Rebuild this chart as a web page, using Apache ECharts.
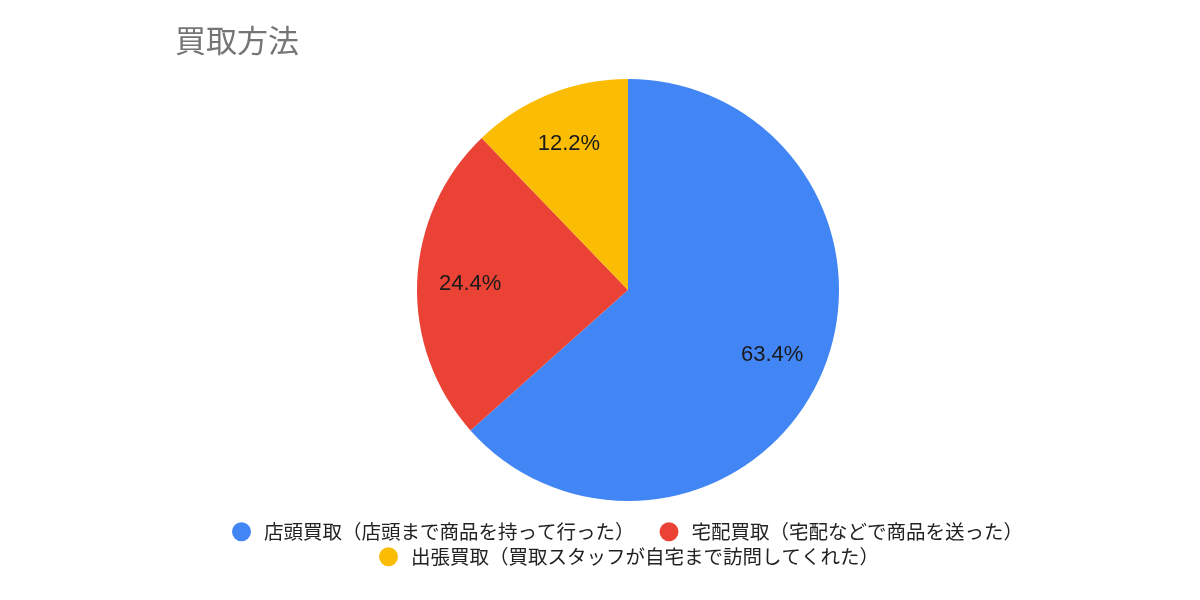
<!DOCTYPE html>
<html>
<head>
<meta charset="utf-8">
<script src="https://cdn.jsdelivr.net/npm/echarts@6/dist/echarts.min.js"></script>
<style>
html,body{margin:0;padding:0;background:#fff;}
#main{width:1200px;height:600px;}
</style>
</head>
<body>
<div id="main"></div>
<script>
const categories = [
  '店頭買取（店頭まで商品を持って行った）',
  '宅配買取（宅配などで商品を送った）',
  '出張買取（買取スタッフが自宅まで訪問してくれた）'
];
const values = [26, 10, 5];
const colors = ['#4285F4', '#EA4335', '#FBBC04'];
const titleText = '買取方法';

const cjk = '"Noto Sans CJK JP", "Noto Sans", sans-serif';
const pieData = categories.map((n, i) => ({ name: n, value: values[i], itemStyle: { color: colors[i] } }));
const labelData = categories.map((n, i) => ({ name: n, value: values[i] }));

const chart = echarts.init(document.getElementById('main'));
const legendCommon = {
  icon: 'circle',
  itemWidth: 19,
  itemHeight: 19,
  itemGap: 25,
  selectedMode: false,
  textStyle: { fontFamily: cjk, fontSize: 19.5, color: '#222', padding: [0, 0, 0, 8] }
};
chart.setOption({
  animation: false,
  title: {
    text: titleText,
    left: 170,
    top: 20,
    textStyle: { fontFamily: cjk, fontSize: 31, fontWeight: 'normal', color: '#757575' }
  },
  legend: [
    Object.assign({}, legendCommon, { left: 227, top: 517, data: categories.slice(0, 2) }),
    Object.assign({}, legendCommon, { left: 374, top: 542, data: categories.slice(2) })
  ],
  series: [
    {
      type: 'pie',
      center: [628, 290],
      radius: [0, 211],
      startAngle: 90,
      clockwise: true,
      silent: true,
      label: { show: false },
      labelLine: { show: false },
      itemStyle: { borderWidth: 0 },
      data: pieData
    },
    {
      type: 'pie',
      center: [628, 290],
      radius: [0, 310],
      startAngle: 90,
      clockwise: true,
      silent: true,
      percentPrecision: 1,
      itemStyle: { color: 'rgba(0,0,0,0)', borderWidth: 0 },
      label: {
        show: true,
        position: 'inside',
        formatter: '{d}%',
        fontFamily: 'Liberation Sans, Arial, sans-serif',
        fontSize: 22,
        color: '#1a1a1a'
      },
      labelLine: { show: false },
      data: labelData
    }
  ]
});
</script>
</body>
</html>
